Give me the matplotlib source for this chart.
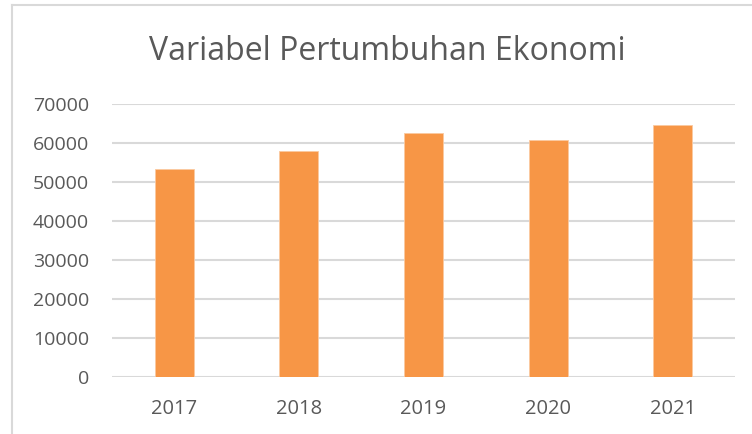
import matplotlib
matplotlib.use("Agg")
import matplotlib.pyplot as plt
from matplotlib.lines import Line2D

years = ["2017", "2018", "2019", "2020", "2021"]
values = [53330, 57870, 62410, 60620, 64540]
yticks = [0, 10000, 20000, 30000, 40000, 50000, 60000, 70000]
title = "Variabel Pertumbuhan Ekonomi"

TEXT = "#595959"
GRID = "#D9D9D9"
BAR = "#F79646"

plt.rcParams['font.family'] = ['Open Sans', 'DejaVu Sans']

fig = plt.figure(figsize=(7.52, 4.34), dpi=100)
fig.patch.set_facecolor("white")

ax = fig.add_axes([112/752, 57.3/434, 623/752, 273/434])
x = list(range(len(years)))
ax.bar(x, values, width=0.313, color=BAR, edgecolor="#FBC9A0", linewidth=0.6, zorder=3)
ax.set_xlim(-0.5, len(years) - 0.5)
ax.set_ylim(0, 70000)
ax.set_yticks(yticks)
ax.set_yticklabels([str(v) for v in yticks])
ax.set_xticks(x)
ax.set_xticklabels(years)
ax.grid(axis='y', color=GRID, linewidth=1.5, zorder=0)
ax.grid(axis='x', visible=False)
for s in ["top", "right", "left", "bottom"]:
    ax.spines[s].set_visible(False)
ax.tick_params(axis='y', length=0, pad=16.5, labelsize=14, labelcolor=TEXT)
ax.tick_params(axis='x', length=0, pad=16, labelsize=14.5, labelcolor=TEXT)

fig.text(387.5/752, 1 - 60.3/434, title, ha='center', va='baseline',
         fontsize=23, color=TEXT)

# chart frame (left and top border)
fig.add_artist(Line2D([12/752, 12/752], [0, 1 - 5/434], transform=fig.transFigure,
                      color=GRID, linewidth=1.5))
fig.add_artist(Line2D([12/752, 1], [1 - 5/434, 1 - 5/434], transform=fig.transFigure,
                      color=GRID, linewidth=1.5))

fig.savefig("out.png", dpi=100)
